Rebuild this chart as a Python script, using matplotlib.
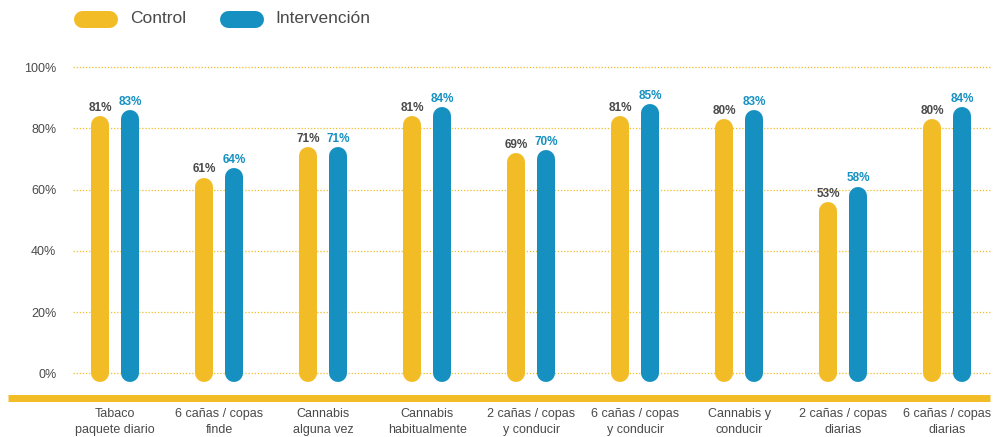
import matplotlib.pyplot as plt
from matplotlib.lines import Line2D

plt.rcParams['font.family'] = ['Liberation Sans', 'DejaVu Sans']

#========== DATA ==========#

categorias = ["Tabaco\npaquete diario", "6 cañas / copas\nfinde", "Cannabis\nalguna vez",
              "Cannabis\nhabitualmente", "2 cañas / copas\ny conducir", "6 cañas / copas\ny conducir",
              "Cannabis y\nconducir", "2 cañas / copas\ndiarias", "6 cañas / copas\ndiarias"]
control = [81, 61, 71, 81, 69, 81, 80, 53, 80]
intervencion = [83, 64, 71, 84, 70, 85, 83, 58, 84]
series = ["Control", "Intervención"]
yticks = [0, 20, 40, 60, 80, 100]

AMARILLO = "#F2BC27"
AZUL = "#1590C1"
GRIS = "#4a4a4a"

#========== FIGURE ==========#

W, H, DPI = 996, 437, 100
fig = plt.figure(figsize=(W / DPI, H / DPI), dpi=DPI)


def px(x, y):
    # pixel coords (top-left origin) -> figure fraction
    return x / W, 1 - y / H


left, top = px(73, 61)
right, bottom = px(992, 398)
ax = fig.add_axes([left, bottom, right - left, top - bottom])

ax.set_ylim(-8, 102)
ax.set_xlim(-0.404, 8.43)

lw_bar = 18 * 72 / DPI
off = 0.144
for i, (c, v) in enumerate(zip(control, intervencion)):
    ax.plot([i - off, i - off], [0, c], color=AMARILLO, lw=lw_bar,
            solid_capstyle='round', zorder=3)
    ax.plot([i + off, i + off], [0, v], color=AZUL, lw=lw_bar,
            solid_capstyle='round', zorder=3)
    ax.annotate(f"{c}%", (i - off, c), xytext=(0, 12.5), textcoords='offset points',
                ha='center', va='center', fontsize=8.5, fontweight='bold', color=GRIS)
    ax.annotate(f"{v}%", (i + off, v), xytext=(0, 12.5), textcoords='offset points',
                ha='center', va='center', fontsize=8.5, fontweight='bold', color=AZUL)

# dotted grid
ax.set_yticks(yticks)
ax.set_yticklabels([f"{t}%" for t in yticks], fontsize=9, color=GRIS)
ax.yaxis.grid(True, linestyle=(0, (1, 1.5)), color=AMARILLO, lw=0.9, zorder=0)
ax.set_axisbelow(True)

ax.set_xticks(range(len(categorias)))
ax.set_xticklabels(categorias, fontsize=9, color=GRIS, linespacing=1.45)
ax.tick_params(axis='both', length=0)
ax.tick_params(axis='x', pad=7)
ax.tick_params(axis='y', pad=12)
for s in ax.spines.values():
    s.set_visible(False)

# thick base line
x0, y0 = px(8, 398)
x1, _ = px(990, 398)
fig.add_artist(Line2D([x0, x1], [y0, y0], color=AMARILLO, lw=7 * 72 / DPI,
                      solid_capstyle='butt'))

# legend pills
lw_pill = 17 * 72 / DPI
for xs, xt, color, label in [(73, 130, AMARILLO, series[0]), (219, 275, AZUL, series[1])]:
    a, yy = px(xs + 8.5, 18.5)
    b, _ = px(xs + 44 - 8.5, 18.5)
    fig.add_artist(Line2D([a, b], [yy, yy], color=color, lw=lw_pill, solid_capstyle='round'))
    tx, ty = px(xt, 18.5)
    fig.text(tx, ty, label, fontsize=12.5, color=GRIS, va='center', ha='left')

fig.savefig("out.png", dpi=DPI)
